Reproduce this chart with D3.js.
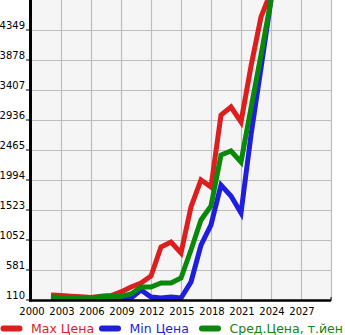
<!DOCTYPE html>
<html><head><meta charset="utf-8">
<script src="https://cdn.jsdelivr.net/npm/d3@7"></script>
<style>body{margin:0;background:#fff}svg{display:block}text{font-family:"DejaVu Sans",sans-serif}</style>
</head><body><svg id="c" width="345" height="335"></svg>
<script>
const years = [2002,2003,2004,2005,2006,2007,2008,2009,2010,2011,2012,2013,2014,2015,2016,2017,2018,2019,2020,2021,2022,2023,2024];
const maxPrice = [190,180,170,160,150,170,180,236,314,377,487,942,1020,848,1570,1994,1884,3015,3140,2905,3780,4553,4950];
const minPrice = [125,120,115,115,115,115,110,95,140,267,157,140,157,140,393,973,1288,1915,1743,1476,2700,3750,4820];
const avgPrice = [160,150,140,135,130,165,170,165,204,314,314,377,377,455,895,1366,1586,2387,2450,2277,3124,3956,4820];
const yTicks = [110,581,1052,1523,1994,2465,2936,3407,3878,4349];
const xTicks = [2000,2003,2006,2009,2012,2015,2018,2021,2024,2027];
const seriesNames = ["Max Цена","Min Цена","Сред.Цена, т.йен"];
const colors = ["#dc1e1e","#1e1edc","#0a880a"];

const svg = d3.select("#c");
const x = d3.scaleLinear().domain([2000,2030]).range([31,331]);
const y = d3.scaleLinear().domain([110,4820]).range([300,0]);

svg.append("rect").attr("x",31).attr("y",0).attr("width",300).attr("height",300).attr("fill","#f5f5f5");
const g = svg.append("g");
g.selectAll(".vg").data(xTicks.slice(1).concat([2030])).enter().append("line")
  .attr("x1",d=>x(d)+0.5).attr("x2",d=>x(d)+0.5).attr("y1",0).attr("y2",300)
  .attr("stroke","#bdbdbd").attr("stroke-width",1.2);
g.selectAll(".hg").data(yTicks.slice(1)).enter().append("line")
  .attr("x1",31).attr("x2",331).attr("y1",d=>y(d)+0.5).attr("y2",d=>y(d)+0.5)
  .attr("stroke","#bdbdbd").attr("stroke-width",1.2);

svg.append("defs").append("clipPath").attr("id","clip").append("rect")
  .attr("x",31).attr("y",0).attr("width",300).attr("height",300);

const line = d3.line().x((d,i)=>x(years[i])).y(d=>y(d));
const lg = svg.append("g").attr("clip-path","url(#clip)");
[maxPrice,minPrice,avgPrice].forEach((s,k)=>{
  lg.append("path").datum(s).attr("d",line).attr("fill","none")
    .attr("stroke",colors[k]).attr("stroke-width",5).attr("stroke-linejoin","miter");
});

// axes
svg.append("line").attr("x1",30.5).attr("x2",30.5).attr("y1",0).attr("y2",301.5).attr("stroke","#000").attr("stroke-width",3);
svg.append("line").attr("x1",29).attr("x2",331).attr("y1",300.5).attr("y2",300.5).attr("stroke","#000").attr("stroke-width",2.5);
svg.append("line").attr("x1",331).attr("x2",331).attr("y1",297).attr("y2",301).attr("stroke","#000").attr("stroke-width",1);

svg.selectAll(".yt").data(yTicks).enter().append("line")
  .attr("x1",26).attr("x2",30).attr("y1",d=>y(d)).attr("y2",d=>y(d)).attr("stroke","#000").attr("stroke-width",1);
svg.selectAll(".yl").data(yTicks).enter().append("text")
  .attr("x",25).attr("y",d=>y(d)-1).attr("text-anchor","end").attr("font-size",10).attr("fill","#000")
  .text(d=>d);
svg.selectAll(".xl").data(xTicks).enter().append("text")
  .attr("x",d=>x(d)+1).attr("y",315).attr("text-anchor","middle").attr("font-size",10).attr("fill","#000")
  .text(d=>d);

// legend (fixed slots)
const slots = [0, 98.5, 198.5];
seriesNames.forEach((n,k)=>{
  const lx = slots[k];
  svg.append("line").attr("x1",lx+3.5).attr("x2",lx+19.5).attr("y1",328.5).attr("y2",328.5)
    .attr("stroke",colors[k]).attr("stroke-width",6).attr("stroke-linecap","round");
  svg.append("text").attr("x",lx+31).attr("y",332.5).attr("font-size",12.5).attr("fill",colors[k]).text(n);
});
</script></body></html>
